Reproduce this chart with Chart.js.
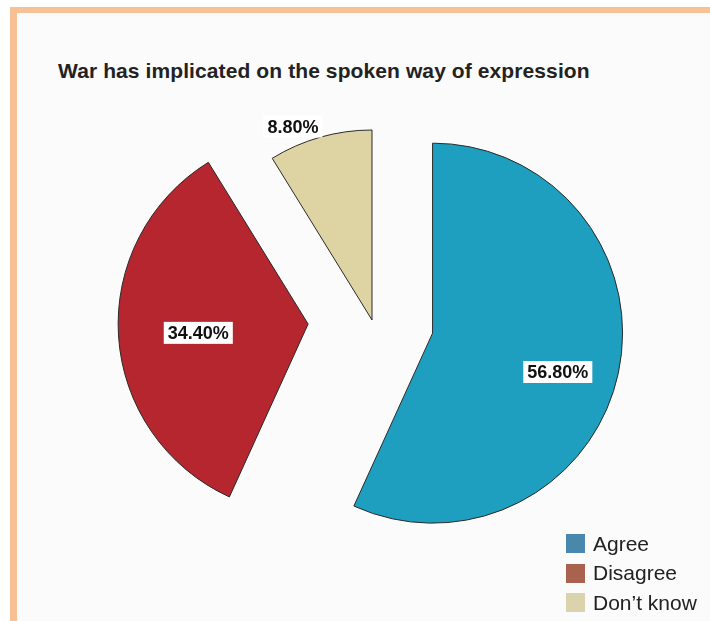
<!DOCTYPE html>
<html>
<head>
<meta charset="utf-8">
<title>War has implicated on the spoken way of expression</title>
<script src="https://cdn.jsdelivr.net/npm/chart.js@4/dist/chart.umd.min.js"></script>
<style>
    html, body { margin: 0; padding: 0; background: #fff; }
    body { width: 710px; height: 621px; position: relative; overflow: hidden; font-family: "Liberation Sans", Arial, sans-serif; }
    #panel { position: absolute; left: 10px; top: 7px; width: 720px; height: 640px; border-left: 7px solid #f8c095; border-top: 6px solid #f8c095; background: #fbfbfb; }
    #title { position: absolute; left: 58px; top: 59px; font-size: 21px; font-weight: bold; color: #222; white-space: nowrap; letter-spacing: 0.1px; }
    #chartBox { position: absolute; left: 0; top: 0; width: 710px; height: 621px; }
    #legend { position: absolute; left: 566px; top: 529px; }
    .item { height: 29.5px; display: flex; align-items: center; font-size: 21px; color: #222; }
    .swatch { width: 19px; height: 19px; margin-right: 8px; }
</style>
</head>
<body>
<div id="panel"></div>
<div id="title">War has implicated on the spoken way of expression</div>
<div id="chartBox"><canvas id="pieChart"></canvas></div>
<div id="legend"></div>
<script>
// datos
const categorias = ["Agree", "Disagree", "Don\u2019t know"];
const porcentajes = [56.8, 34.4, 8.8];
const coloresPie = ["#1e9fbf", "#b5262f", "#ddd3a3"];
const coloresLeyenda = ["#4a87ad", "#a9624f", "#dbd2ae"];

// leyenda
const leyenda = document.getElementById('legend');
categorias.forEach((cat, i) => {
    const item = document.createElement('div');
    item.className = 'item';
    item.innerHTML = '<span class="swatch" style="background:' + coloresLeyenda[i] + '"></span>' + cat;
    leyenda.appendChild(item);
});

// separa las porciones y pone las etiquetas
const porcionesSeparadas = {
    id: 'porcionesSeparadas',
    beforeDatasetDraw(chart, args, opts) {
        const ctx = chart.ctx;
        args.meta.data.forEach((arc, i) => {
            const medio = (arc.startAngle + arc.endAngle) / 2;
            const d = opts.distancia[i];
            ctx.save();
            ctx.translate(Math.cos(medio) * d, Math.sin(medio) * d);
            arc.draw(ctx, chart.chartArea);
            ctx.restore();
        });
        return false;
    },
    afterDatasetsDraw(chart, args, opts) {
        const ctx = chart.ctx;
        const meta = chart.getDatasetMeta(0);
        ctx.save();
        ctx.font = 'bold 18px "Liberation Sans", Arial, sans-serif';
        ctx.textAlign = 'center';
        ctx.textBaseline = 'middle';
        meta.data.forEach((arc, i) => {
            const medio = (arc.startAngle + arc.endAngle) / 2;
            const d = opts.distancia[i];
            const cx = arc.x + Math.cos(medio) * d;
            const cy = arc.y + Math.sin(medio) * d;
            const ang = medio + opts.giro[i] * Math.PI / 180;
            const r = arc.outerRadius * opts.radio[i];
            const x = cx + Math.cos(ang) * r;
            const y = cy + Math.sin(ang) * r;
            const texto = porcentajes[i].toFixed(2) + '%';
            const w = ctx.measureText(texto).width + 8;
            ctx.fillStyle = '#fff';
            ctx.fillRect(x - w / 2, y - 11, w, 22);
            ctx.fillStyle = '#111';
            ctx.fillText(texto, x, y + 1);
        });
        ctx.restore();
    }
};

new Chart(document.getElementById('pieChart'), {
    type: 'pie',
    data: {
        labels: categorias,
        datasets: [{
            data: porcentajes,
            backgroundColor: coloresPie,
            borderColor: '#2a2a2a',
            borderWidth: 1
        }]
    },
    options: {
        responsive: true,
        maintainAspectRatio: false,
        animation: false,
        radius: 190,
        layout: { padding: { left: 34, top: 19, right: 0, bottom: 0 } },
        plugins: {
            legend: { display: false },
            title: { display: false },
            tooltip: { enabled: false },
            porcionesSeparadas: {
                distancia: [62, 64, 0],
                radio: [0.69, 0.58, 1.10],
                giro: [5, -1, -6.4]
            }
        }
    },
    plugins: [porcionesSeparadas]
});
</script>
</body>
</html>
